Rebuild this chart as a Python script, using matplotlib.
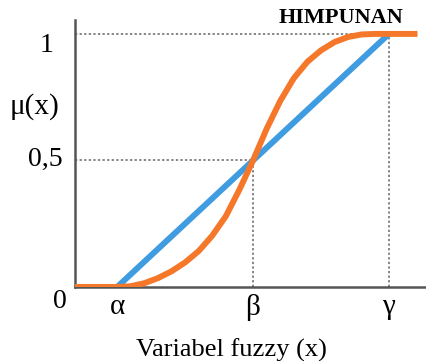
import matplotlib
matplotlib.use("Agg")
import matplotlib.pyplot as plt

# points on the x axis
alpha, beta, gamma = 1.0, 2.0, 3.0
tick_labels = ["α", "β", "γ"]

# linear membership (blue)
lin_x = [0.69, 1.0, 3.0]
lin_y = [0.0, 0.0, 1.0]

# s-curve membership (orange)
s_x = [0.69, 1.0, 1.1, 1.2, 1.3, 1.4, 1.5, 1.6, 1.7, 1.8, 1.9, 2.0,
       2.1, 2.2, 2.3, 2.4, 2.5, 2.6, 2.7, 2.8, 2.9, 3.21]
s_y = [0.0, 0.0, 0.003, 0.015, 0.035, 0.062, 0.097, 0.142, 0.203, 0.28, 0.385, 0.5,
       0.625, 0.735, 0.825, 0.89, 0.935, 0.968, 0.988, 0.998, 1.0, 1.0]

plt.rcParams['font.family'] = ['Liberation Serif', 'DejaVu Serif']

fig = plt.figure(figsize=(4.27, 3.61), dpi=100)
ax = fig.add_axes([75/427, 74/361, 352/427, 267/361])

ax.plot(lin_x, lin_y, color='#3f9ce0', lw=4.3, solid_capstyle='butt',
        solid_joinstyle='round', zorder=3)
ax.plot(s_x, s_y, color='#f5782a', lw=4.3, solid_capstyle='butt',
        solid_joinstyle='round', zorder=4)

# guide lines
dot = dict(color='#666666', lw=1.1, ls=(0, (1.5, 1.5)), zorder=2)
ax.plot([0.69, gamma], [1, 1], **dot)
ax.plot([gamma, gamma], [0, 1], **dot)
ax.plot([0.69, beta], [0.5, 0.5], **dot)
ax.plot([beta, beta], [0, 0.5], **dot)

ax.set_xlim(0.69, 3.28)
ax.set_ylim(0, 1.055)
for s in ['top', 'right']:
    ax.spines[s].set_visible(False)
for s in ['left', 'bottom']:
    ax.spines[s].set_color('#555555')
    ax.spines[s].set_linewidth(1.8)

ax.set_xticks([alpha, beta, gamma])
ax.set_xticklabels(tick_labels, fontsize=21)
ax.tick_params(axis='x', length=0, pad=5)
ax.set_yticks([])

fig.text(47/427, 1 - 46/361, "1", fontsize=20, ha='center', va='center')
fig.text(35/427, 1 - 107/361, "μ(x)", fontsize=21, ha='center', va='center')
fig.text(45/427, 1 - 159/361, "0,5", fontsize=20, ha='center', va='center')
fig.text(60/427, 1 - 302/361, "0", fontsize=20, ha='center', va='center')
fig.text(231/427, 1 - 350/361, "Variabel fuzzy (x)", fontsize=19, ha='center', va='center')
fig.text(341/427, 1 - 18/361, "HIMPUNAN", fontsize=16, fontweight='bold',
         ha='center', va='center')

fig.savefig("out.png", dpi=100)
